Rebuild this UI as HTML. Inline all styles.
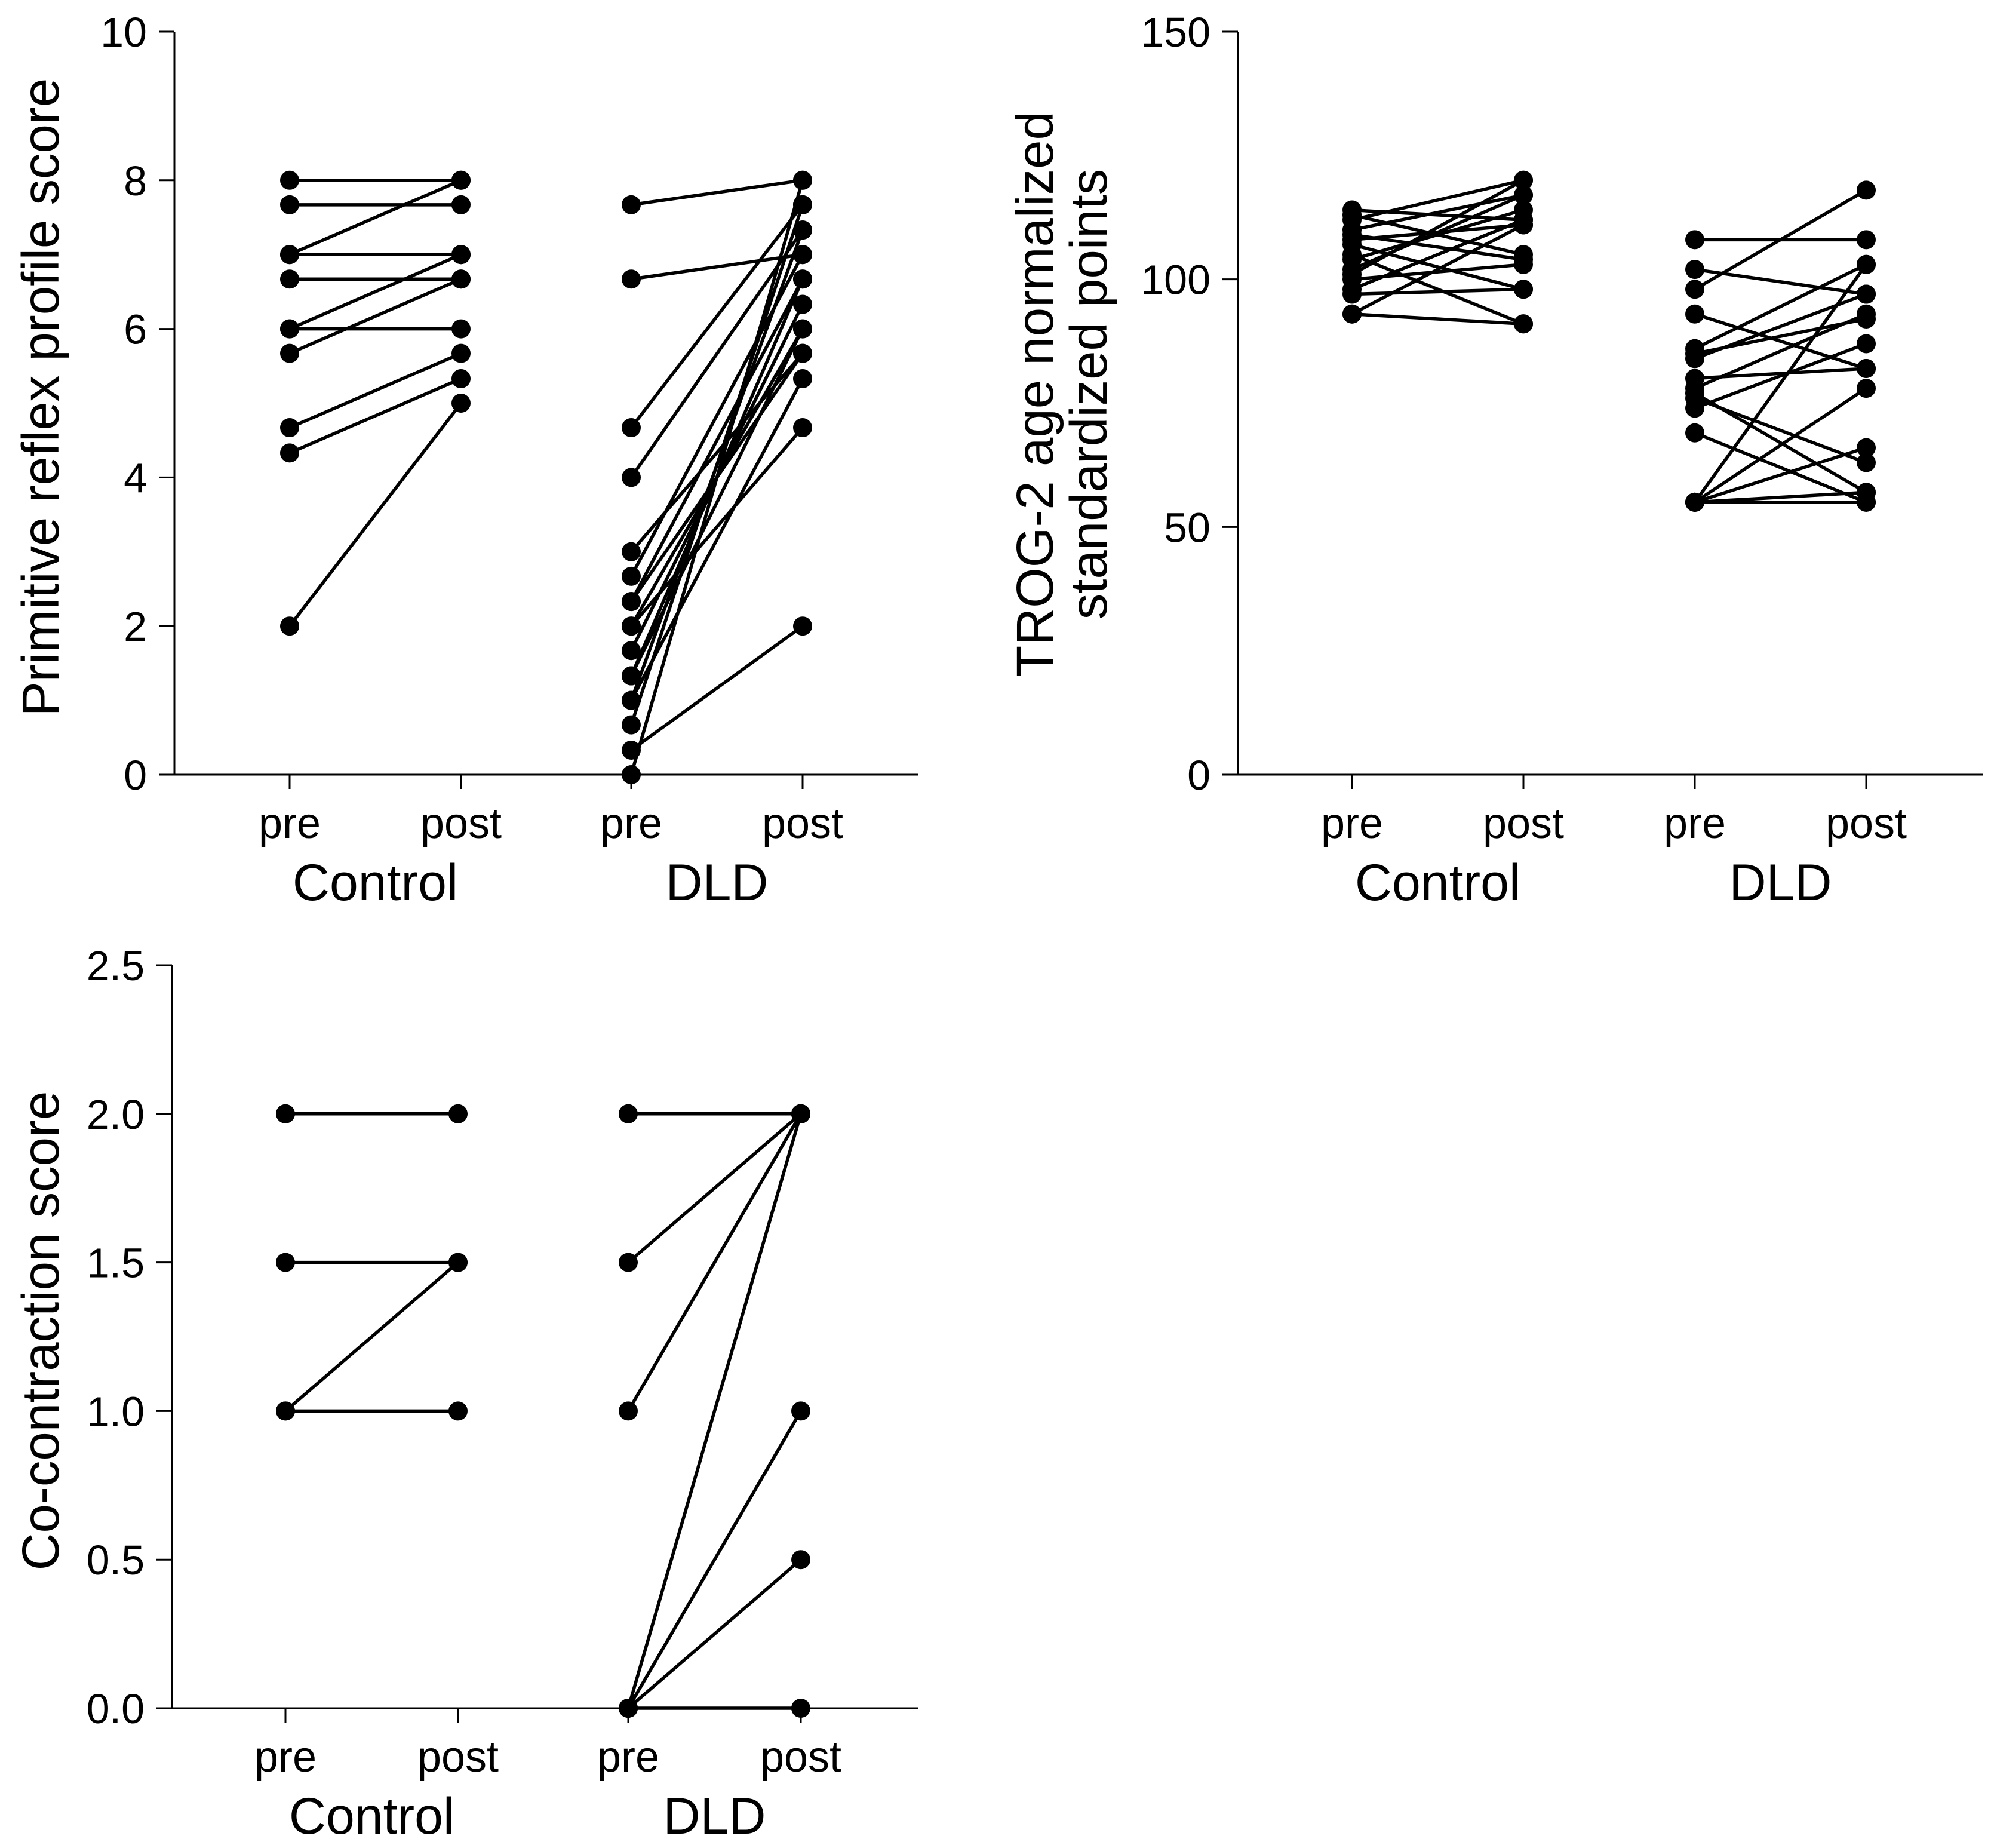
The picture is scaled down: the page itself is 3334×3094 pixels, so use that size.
<!DOCTYPE html>
<html><head><meta charset="utf-8"><style>
html,body{margin:0;padding:0;background:#fff}
svg{display:block}
text{font-family:"Liberation Sans",Arial,sans-serif;fill:#000}
</style></head><body>
<svg id="fig" width="3334" height="3094" viewBox="0 0 3334 3094" xmlns="http://www.w3.org/2000/svg"></svg>
<script>
// Panel A: primitive reflex
const catLabels = ["pre","post","pre","post"];
const groupLabels = ["Control","DLD"];
const aTicks = [0,2,4,6,8,10];
const aCtrlPre  = [8,7.67,7,7,6.67,6,6,5.67,4.67,4.33,2];
const aCtrlPost = [8,7.67,8,7,6.67,7,6,6.67,5.67,5.33,5];
const aDldPre  = [7.67,6.67,4.67,4,3,2.67,2.33,2.33,2,2,1.67,1.33,1.33,1,1,0.67,0.33,0];
const aDldPost = [8,7,7.67,7.33,5.67,7,5.67,6.67,6,4.67,6.33,6.67,6,7.33,5.33,7.67,2,8];
// Panel B: TROG-2
const bTicks = [0,50,100,150];
const bCtrlPre  = [114,113,112,110,109,108,107,105,104,102,101,100,98,97,93,93];
const bCtrlPost = [112,105,120,117,104,111,98,91,114,117,120,103,112,98,91,111];
const bDldPre  = [108,102,98,93,86,85,84,80,78,77,76,74,69,55,55,55,55,55];
const bDldPost = [108,97,118,82,103,92,97,82,93,57,63,87,55,78,103,66,55,57];
// Panel C: co-contraction
const cTicks = [0,0.5,1.0,1.5,2.0,2.5];
const cTickLabels = ["0.0","0.5","1.0","1.5","2.0","2.5"];
const cCtrlPre  = [2,1.5,1,1];
const cCtrlPost = [2,1.5,1.5,1];
const cDldPre  = [2,1.5,1,0,0,0,0];
const cDldPost = [2,2,2,2,1,0.5,0];

const NS="http://www.w3.org/2000/svg";
const svg=document.getElementById('fig');
function mk(tag,attrs,parent,txt){const e=document.createElementNS(NS,tag);for(const k in attrs)e.setAttribute(k,attrs[k]);if(txt!==undefined)e.textContent=txt;(parent||svg).appendChild(e);return e;}

function panel(cfg){
  const g=mk('g',{});
  
  
  const y=v=>cfg.y0-(v-cfg.min)/(cfg.max-cfg.min)*(cfg.y0-cfg.y1);
  const ax=mk('line',{x1:cfg.ax,y1:cfg.y1,x2:cfg.ax,y2:cfg.y0,stroke:'#000','stroke-width':3},g);
  
  
  const xa=mk('line',{x1:cfg.ax-26,y1:cfg.y0,x2:cfg.xend,y2:cfg.y0,stroke:'#000','stroke-width':3},g);
  
  
  cfg.ticks.forEach((t,i)=>{
    mk('line',{x1:cfg.ax-26,y1:y(t),x2:cfg.ax,y2:y(t),stroke:'#000','stroke-width':3},g);
    const tl=mk('text',{x:cfg.ax-46,y:y(t)+25,'font-size':70,'text-anchor':'end'},g,cfg.tickLabels?cfg.tickLabels[i]:String(t));
    
    
  });
  cfg.cx.forEach((x,i)=>{
    mk('line',{x1:x,y1:cfg.y0,x2:x,y2:cfg.y0+24,stroke:'#000','stroke-width':3},g);
    const t=mk('text',{x:x,y:cfg.y0+106,'font-size':72,'text-anchor':'middle'},g,catLabels[i]);
    
    
  });
  groupLabels.forEach((lab,i)=>{
    const x=(cfg.cx[2*i]+cfg.cx[2*i+1])/2;
    const t=mk('text',{x:x,y:cfg.y0+210,'font-size':86,'text-anchor':'middle'},g,lab);
    
    
  });
  cfg.title.forEach((line,i)=>{
    const tx=cfg.titleX+i*90, ty=cfg.titleY;
    const t=mk('text',{x:tx,y:ty,'font-size':87,'text-anchor':'middle',transform:`rotate(-90 ${tx} ${ty})`},g,line);
    
    
  });
  cfg.series.forEach(([pre,post],gi)=>{
    const x1=cfg.cx[2*gi], x2=cfg.cx[2*gi+1];
    pre.forEach((v,i)=>{
      const l=mk('line',{x1:x1,y1:y(v),x2:x2,y2:y(post[i]),stroke:'#000','stroke-width':5.5},g);
      
      
    });
    pre.forEach((v,i)=>{
      const a=mk('circle',{cx:x1,cy:y(v),r:16,fill:'#000'},g);
      
      
      const b=mk('circle',{cx:x2,cy:y(post[i]),r:16,fill:'#000'},g);
      
      
    });
  });
}
panel({name:'primitive-reflex-panel',ax:292,y0:1297,y1:53,min:0,max:10,xend:1537,ticks:aTicks,
  cx:[485,772,1057,1344],title:['Primitive reflex profile score'],titleX:98,titleY:665,
  series:[[aCtrlPre,aCtrlPost],[aDldPre,aDldPost]]});
panel({name:'trog2-panel',ax:2073,y0:1297,y1:53,min:0,max:150,xend:3321,ticks:bTicks,
  cx:[2264,2551,2838,3125],title:['TROG-2 age normalized','standardized points'],titleX:1763,titleY:660,
  series:[[bCtrlPre,bCtrlPost],[bDldPre,bDldPost]]});
panel({name:'co-contraction-panel',ax:288,y0:2860,y1:1616,min:0,max:2.5,xend:1537,ticks:cTicks,tickLabels:cTickLabels,
  cx:[478,767,1052,1341],title:['Co-contraction score'],titleX:98,titleY:2228,
  series:[[cCtrlPre,cCtrlPost],[cDldPre,cDldPost]]});
</script>
</body></html>
